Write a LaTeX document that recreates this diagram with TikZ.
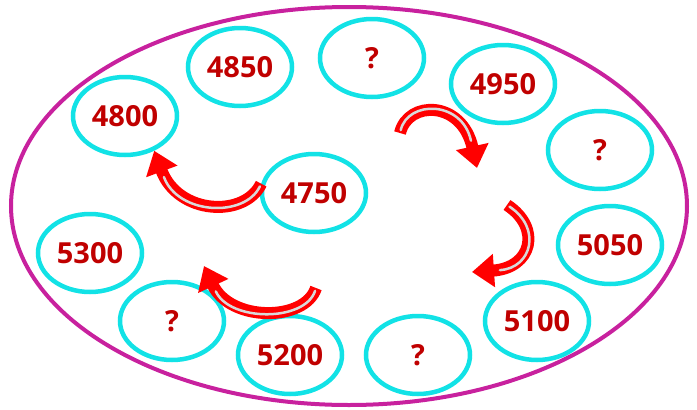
\documentclass[tikz,border=0pt]{standalone}
\usepackage{fontspec}
\setmainfont{Open Sans}
\usetikzlibrary{shapes.geometric, arrows.meta}
\definecolor{ringcyan}{HTML}{12E2E6}
\definecolor{ringpink}{HTML}{C8219E}
\definecolor{numred}{HTML}{C00000}

\begin{document}
\begin{tikzpicture}[x=1pt, y=-1pt,
    num/.style={ellipse, draw=ringcyan, line width=4.5pt, minimum width=104pt, minimum height=78pt, inner sep=0pt, text=numred, font=\fontsize{29}{31}\selectfont\bfseries},
    turn/.style={red, line width=12pt, -{Triangle[length=22pt, width=32pt]}},
    shine/.style={gray!30, line width=2.5pt, line cap=round, shorten <=3pt, shorten >=28pt}]
    \useasboundingbox (0,0) rectangle (697,410);
    % Frame
    \draw[ringpink, line width=4pt] (349,206) ellipse [x radius=338pt, y radius=199pt];
    % Nodes
    \node[num] (a4850) at (240,67) {4850};
    \node[num] (q1) at (372,58) {?};
    \node[num] (a4950) at (503,84) {4950};
    \node[num] (a4800) at (125,116) {4800};
    \node[num] (q2) at (600,150) {?};
    \node[num] (a4750) at (314,193) {4750};
    \node[num] (a5300) at (90,253) {5300};
    \node[num] (a5050) at (610,245) {5050};
    \node[num] (q3) at (172,321) {?};
    \node[num] (a5100) at (537,321) {5100};
    \node[num] (a5200) at (290,355) {5200};
    \node[num] (q4) at (418,355) {?};
    % Arrows
    \coordinate (t2) at (400,133);
    \coordinate (h2) at (477,168);
    \coordinate (t3) at (507,205);
    \coordinate (h3) at (472,272);
    \coordinate (t4) at (316,288);
    \coordinate (h4) at (204,266);
    \draw[turn] (a4750.170) .. controls (245,218) and (178,215) .. (a4800.-50);
    \draw[shine] (a4750.170) .. controls (245,218) and (178,215) .. (a4800.-50);
    \draw[turn] (t2) .. controls (408,100) and (462,100) .. (h2);
    \draw[shine] (t2) .. controls (408,100) and (462,100) .. (h2);
    \draw[turn] (t3) .. controls (542,228) and (532,268) .. (h3);
    \draw[shine] (t3) .. controls (542,228) and (532,268) .. (h3);
    \draw[turn] (t4) .. controls (305,322) and (230,322) .. (h4);
    \draw[shine] (t4) .. controls (305,322) and (230,322) .. (h4);
\end{tikzpicture}
\end{document}
